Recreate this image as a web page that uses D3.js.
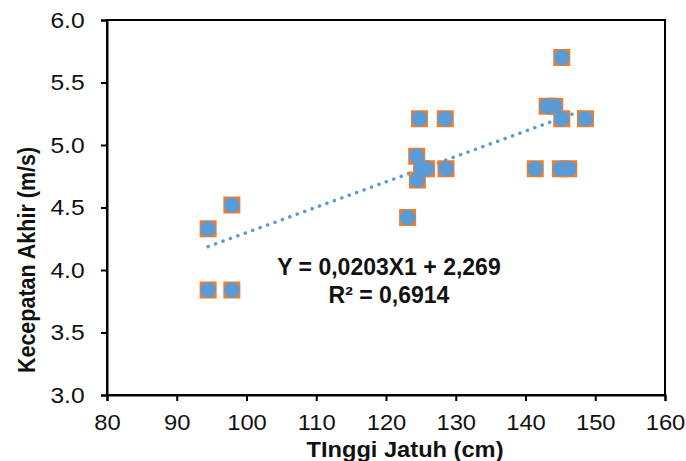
<!DOCTYPE html>
<html>
<head>
<meta charset="UTF-8">
<script src="https://d3js.org/d3.v7.min.js"></script>
<style>
  body { margin: 0; background: #fff; }
  text { font-family: "Liberation Sans", Arial, sans-serif; }
</style>
</head>
<body>
<svg width="686" height="461"></svg>
<script>
// Tinggi jatuh (cm) vs kecepatan akhir (m/s)
const tinggi = [94.5, 94.5, 97.9, 97.9, 123.1, 124.8, 128.5, 124.4, 125.1, 125.8, 124.5, 128.6,
                145.2, 143.1, 144.2, 145.2, 148.6, 141.4, 145.0, 146.2];
const kecepatan = [4.33, 3.84, 4.52, 3.84, 4.42, 5.21, 5.21, 4.91, 4.81, 4.81, 4.72, 4.81,
                   5.70, 5.31, 5.31, 5.21, 5.21, 4.81, 4.81, 4.81];
const xTicks = [80, 90, 100, 110, 120, 130, 140, 150, 160];
const yTicks = [3.0, 3.5, 4.0, 4.5, 5.0, 5.5, 6.0];
const slope = 0.0203, intercept = 2.269;
const persamaan = ["Y = 0,0203X1 + 2,269", "R² = 0,6914"];

const data = tinggi.map((t, i) => ({ x: t, y: kecepatan[i] }));

const margin = { top: 20, right: 21, bottom: 66, left: 107 },
      width = 686 - margin.left - margin.right,
      height = 461 - margin.top - margin.bottom;

const svg = d3.select("svg")
  .append("g")
    .attr("transform", "translate(" + margin.left + "," + margin.top + ")");

const x = d3.scaleLinear().domain([80, 160]).range([0, width]);
const y = d3.scaleLinear().domain([3, 6]).range([height, 0]);

// frame
svg.append("rect")
    .attr("width", width)
    .attr("height", height)
    .attr("fill", "none")
    .attr("stroke", "#000")
    .attr("stroke-width", 2);

const xAxis = svg.append("g")
    .attr("transform", "translate(0," + height + ")")
    .call(d3.axisBottom(x).tickValues(xTicks).tickSize(6).tickPadding(13));

const yAxis = svg.append("g")
    .call(d3.axisLeft(y).tickValues(yTicks).tickSize(6).tickPadding(14).tickFormat(d3.format(".1f")));

[xAxis, yAxis].forEach(a => {
  a.select(".domain").attr("stroke-width", 2);
  a.selectAll(".tick line").attr("stroke-width", 2);
  a.selectAll(".tick text")
    .style("font-size", "22px")
    .style("font-family", "'Liberation Sans', Arial, sans-serif")
    .attr("fill", "#111");
});
xAxis.selectAll(".tick text").attr("transform", "scale(1.08,1)");
yAxis.selectAll(".tick text").attr("transform", "scale(1.12,1)");

// trendline
const x0 = d3.min(tinggi), x1 = d3.max(tinggi);
svg.append("line")
    .attr("x1", x(x0)).attr("y1", y(slope * x0 + intercept))
    .attr("x2", x(x1)).attr("y2", y(slope * x1 + intercept))
    .attr("stroke", "#5B9BD5")
    .attr("stroke-width", 3.5)
    .attr("stroke-linecap", "round")
    .attr("stroke-dasharray", "0.1 7.8");

svg.selectAll(".kotak")
    .data(data)
  .enter().append("rect")
    .attr("class", "kotak")
    .attr("x", d => x(d.x) - 8.5)
    .attr("y", d => y(d.y) - 8.5)
    .attr("width", 17)
    .attr("height", 17)
    .attr("fill", "#ED7D31");

svg.selectAll(".titik")
    .data(data)
  .enter().append("circle")
    .attr("class", "titik")
    .attr("cx", d => x(d.x))
    .attr("cy", d => y(d.y))
    .attr("r", 7.8)
    .attr("fill", "#5B9BD5");

svg.selectAll(".persamaan")
    .data(persamaan)
  .enter().append("text")
    .attr("class", "persamaan")
    .attr("x", 282)
    .attr("y", (d, i) => 255 + i * 28)
    .attr("text-anchor", "middle")
    .style("font-size", "23px")
    .style("font-weight", "bold")
    .attr("fill", "#111")
    .text(d => d);

svg.append("text")
    .attr("transform", "translate(298," + (height + 62) + ") scale(1.1,1)")
    .attr("text-anchor", "middle")
    .style("font-size", "21.5px")
    .style("font-weight", "bold")
    .attr("fill", "#111")
    .text("TInggi Jatuh (cm)");

svg.append("text")
    .attr("transform", "translate(-72,240) scale(1.1,1) rotate(-90)")
    .attr("text-anchor", "middle")
    .style("font-size", "21.5px")
    .style("font-weight", "bold")
    .attr("fill", "#111")
    .text("Kecepatan Akhir (m/s)");
</script>
</body>
</html>
